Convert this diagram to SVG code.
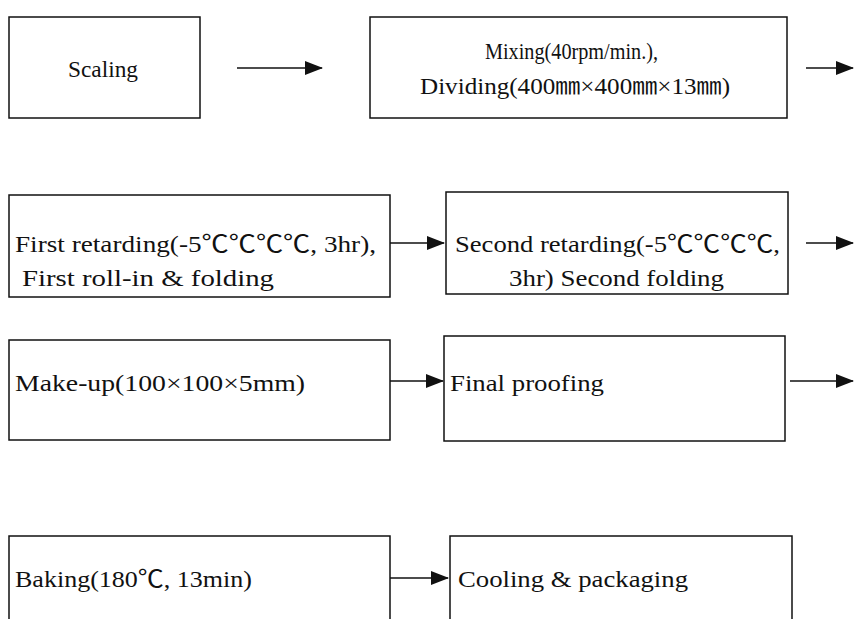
<svg xmlns="http://www.w3.org/2000/svg" width="854" height="619" viewBox="0 0 854 619">
<style>
.box{fill:#fff;stroke:#111;stroke-width:1.5}
.c{stroke:#111;stroke-width:1.6;fill:none;marker-end:url(#ah)}
</style>
<defs>
<marker id="ah" markerUnits="userSpaceOnUse" markerWidth="18" markerHeight="14" refX="17" refY="7" orient="auto">
<path d="M0,0 L18,7 L0,14 Z" fill="#111"/>
</marker>
</defs>
<rect width="854" height="619" fill="#fff"/>
<g font-family="'Liberation Serif','Noto Sans CJK KR',serif" font-size="24" fill="#111">
<g id="n1"><rect class="box" x="9" y="17" width="191" height="101"/><text x="68" y="77" textLength="70" lengthAdjust="spacingAndGlyphs">Scaling</text></g>
<g id="n2"><rect class="box" x="370" y="17" width="417" height="101"/><text x="485" y="59" textLength="173" lengthAdjust="spacingAndGlyphs">Mixing(40rpm/min.),</text><text x="420" y="94" textLength="310" lengthAdjust="spacingAndGlyphs">Dividing(400㎜×400㎜×13㎜)</text></g>
<g id="n3"><rect class="box" x="9" y="195" width="381" height="102"/><text x="15" y="252" textLength="361" lengthAdjust="spacingAndGlyphs">First retarding(-5℃℃℃℃, 3hr),</text><text x="22" y="286" textLength="252" lengthAdjust="spacingAndGlyphs">First roll-in &amp; folding</text></g>
<g id="n4"><rect class="box" x="446" y="192" width="342" height="102"/><text x="455" y="252" textLength="325" lengthAdjust="spacingAndGlyphs">Second retarding(-5℃℃℃℃,</text><text x="509" y="286" textLength="215" lengthAdjust="spacingAndGlyphs">3hr) Second folding</text></g>
<g id="n5"><rect class="box" x="9" y="340" width="381" height="100"/><text x="15" y="391" textLength="290" lengthAdjust="spacingAndGlyphs">Make-up(100×100×5mm)</text></g>
<g id="n6"><rect class="box" x="444" y="336" width="341" height="105"/><text x="450" y="391" textLength="154" lengthAdjust="spacingAndGlyphs">Final proofing</text></g>
<g id="n7"><path class="box" d="M9,630 V536 H390 V630"/><text x="15" y="587" textLength="237" lengthAdjust="spacingAndGlyphs">Baking(180℃, 13min)</text></g>
<g id="n8"><path class="box" d="M450,630 V536 H792 V630"/><text x="458" y="587" textLength="230" lengthAdjust="spacingAndGlyphs">Cooling &amp; packaging</text></g>
</g>
<g id="connectors">
<line class="c" x1="237" y1="68" x2="322" y2="68"/>
<line class="c" x1="806" y1="68" x2="853" y2="68"/>
<line class="c" x1="390" y1="243" x2="444" y2="243"/>
<line class="c" x1="806" y1="243" x2="853" y2="243"/>
<line class="c" x1="390" y1="381" x2="443" y2="381"/>
<line class="c" x1="790" y1="381" x2="853" y2="381"/>
<line class="c" x1="390" y1="578" x2="448" y2="578"/>
</g>
</svg>
